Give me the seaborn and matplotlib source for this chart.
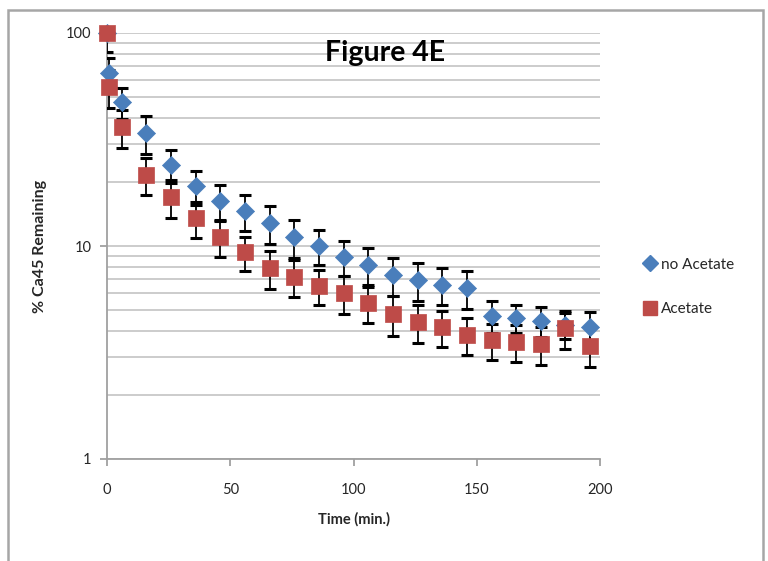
import matplotlib
matplotlib.use("Agg")
from matplotlib import pyplot as plt
from matplotlib.patches import Rectangle
from matplotlib.lines import Line2D
from matplotlib.ticker import LogLocator, NullFormatter, FixedLocator, FixedFormatter
import seaborn as sns
import pandas as pd

# time points (min.)
time = [0, 1, 6, 16, 26, 36, 46, 56, 66, 76, 86, 96, 106, 116, 126, 136, 146,
        156, 166, 176, 186, 196]
no_acetate = [100, 64.9, 47.4, 33.9, 24.0, 19.1, 16.3, 14.6, 12.8, 11.0, 10.0,
              8.9, 8.14, 7.31, 6.92, 6.56, 6.35, 4.69, 4.59, 4.45, 4.26, 4.17]
no_acetate_err = [0, 11.4, 8.0, 7.0, 4.2, 3.5, 3.0, 2.8, 2.6, 2.2, 1.9, 1.7,
                  1.6, 1.5, 1.4, 1.3, 1.3, 0.8, 0.7, 0.7, 0.6, 0.75]
acetate = [100, 55.8, 36.2, 21.6, 17.0, 13.5, 11.0, 9.37, 7.9, 7.15, 6.5, 6.0,
           5.4, 4.8, 4.4, 4.17, 3.82, 3.62, 3.55, 3.47, 4.12, 3.40]
acetate_err = [19, 11.5, 7.5, 4.3, 3.4, 2.6, 2.1, 1.7, 1.6, 1.4, 1.2, 1.2,
               1.05, 1.0, 0.9, 0.8, 0.75, 0.7, 0.7, 0.7, 0.85, 0.7]

series_names = ["no Acetate", "Acetate"]
colors = {"no Acetate": "#4a7ebb", "Acetate": "#be4b48"}
markers = {"no Acetate": "D", "Acetate": "s"}
x_ticks = [0, 50, 100, 150, 200]
y_ticks = [1, 10, 100]

df = pd.concat([
    pd.DataFrame({"time": time, "value": no_acetate, "err": no_acetate_err, "series": "no Acetate"}),
    pd.DataFrame({"time": time, "value": acetate, "err": acetate_err, "series": "Acetate"}),
], ignore_index=True)

sns.set_style("white")
plt.rcParams["font.family"] = ["Lato", "DejaVu Sans"]

fig = plt.figure(figsize=(7.68, 5.61), dpi=100)
ax = fig.add_axes([107 / 768, 1 - 459 / 561, 493 / 768, 426 / 561])

# outer chart border
fig.patches.append(Rectangle((8 / 768, -0.05), 755 / 768, 1.05 - 10 / 561,
                             transform=fig.transFigure, fill=False,
                             edgecolor="#a6a6a6", linewidth=1.8, zorder=0))

ax.set_yscale("log")
ax.set_xlim(0, 200)
ax.set_ylim(1, 100)

# horizontal grid at every log step
ax.yaxis.set_major_locator(FixedLocator(y_ticks))
ax.yaxis.set_major_formatter(FixedFormatter([str(v) for v in y_ticks]))
ax.yaxis.set_minor_locator(LogLocator(base=10, subs=range(2, 10)))
ax.yaxis.set_minor_formatter(NullFormatter())
ax.grid(True, which="both", axis="y", color="#c8c8c8", linewidth=1.3)
ax.grid(False, axis="x")
ax.set_axisbelow(True)

# series: error bars + markers, blue first so red sits on top
for name in series_names:
    sub = df[df.series == name]
    ax.errorbar(sub["time"], sub["value"], yerr=sub["err"], fmt="none",
                ecolor="black", elinewidth=1.3, capsize=4, capthick=2.2, zorder=3)
    sns.scatterplot(data=sub, x="time", y="value", marker=markers[name],
                    color=colors[name], s=125 if name == "Acetate" else 85,
                    edgecolor=colors[name], linewidth=0.5, ax=ax, zorder=4,
                    legend=False, clip_on=False)

ax.set_xticks(x_ticks)
ax.set_xticklabels([str(v) for v in x_ticks])

for side in ["top", "right"]:
    ax.spines[side].set_visible(False)
for side in ["left", "bottom"]:
    ax.spines[side].set_color("#a0a0a0")
    ax.spines[side].set_linewidth(1.3)

ax.tick_params(axis="x", which="major", direction="out", length=5, width=1.3,
               color="#a0a0a0", labelsize=10.5, pad=12, bottom=True)
ax.tick_params(axis="y", which="major", direction="out", length=5, width=1.3,
               color="#a0a0a0", labelsize=10.5, pad=6, left=True)
ax.tick_params(axis="y", which="minor", length=0)

ax.set_xlabel("Time (min.)", fontsize=10.5, fontweight="bold", labelpad=11)
ax.set_ylabel("% Ca45 Remaining", fontsize=11.5, fontweight="bold", labelpad=14)

ax.text(0.564, 0.953, "Figure 4E", transform=ax.transAxes, ha="center",
        va="center", fontsize=20.5, fontweight="bold", color="black")

handles = [Line2D([], [], linestyle="none", marker=markers[n], color=colors[n],
                  markersize=8 if n == "no Acetate" else 10.5) for n in series_names]
leg = fig.legend(handles, series_names, loc="center left",
                 bbox_to_anchor=(630 / 768, 1 - 287 / 561), frameon=False,
                 fontsize=11, handlelength=0.8, handletextpad=0.3,
                 labelspacing=2.0)

plt.savefig("out.png", dpi=100)
plt.close()
